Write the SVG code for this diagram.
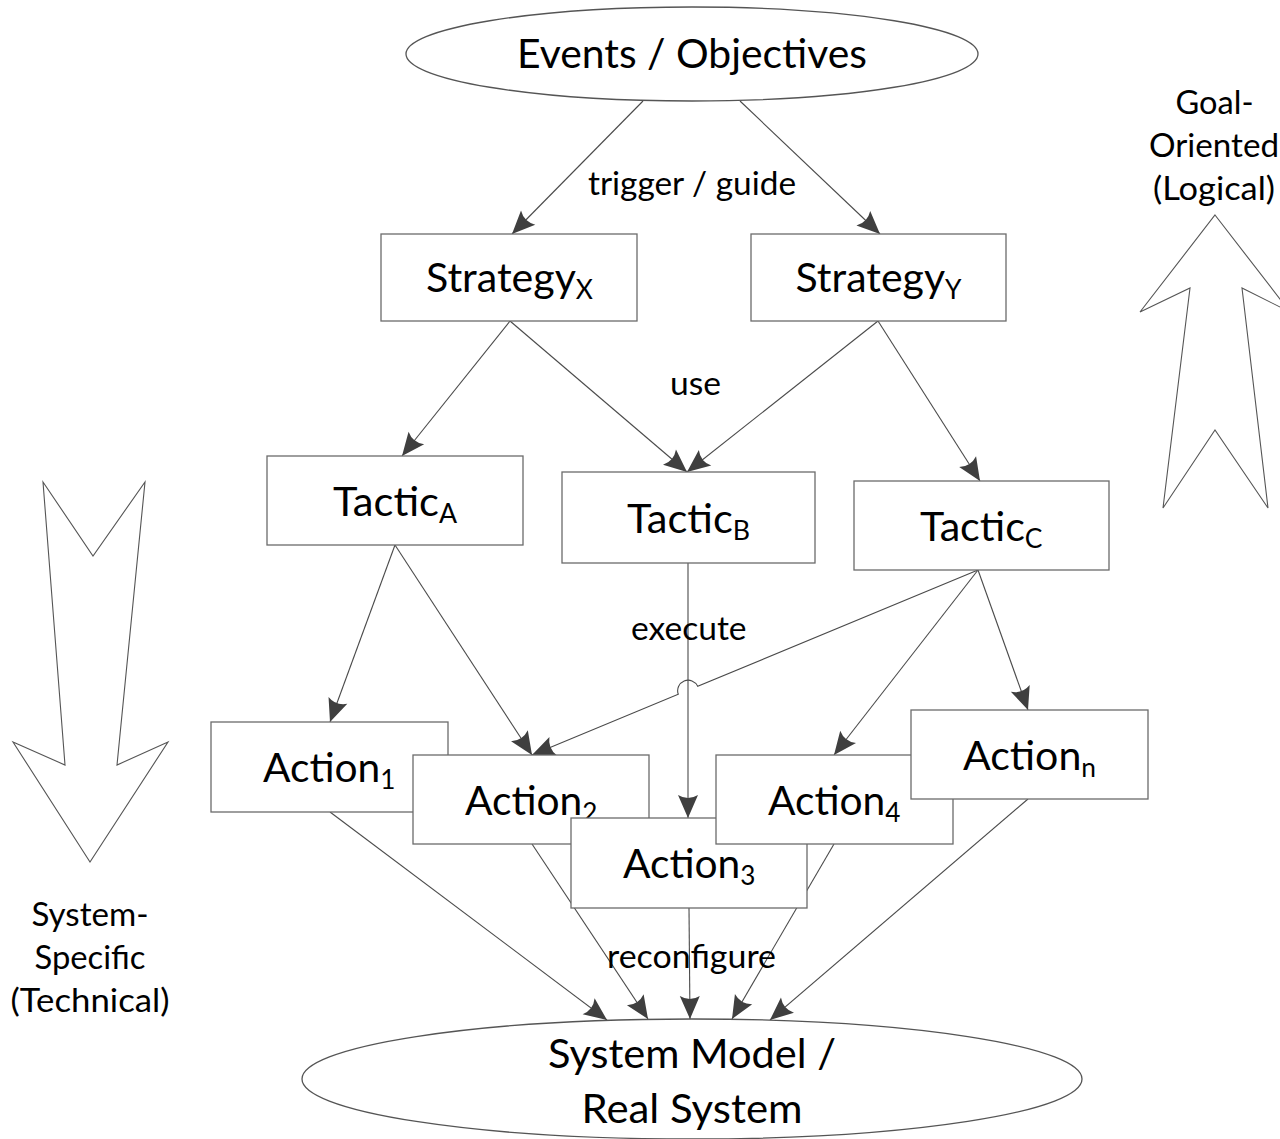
<svg xmlns="http://www.w3.org/2000/svg" width="1280" height="1139" viewBox="0 0 1280 1139">
<style>
  .box { fill:#ffffff; stroke:#6b6b6b; stroke-width:1.3; }
  .ell { fill:#ffffff; stroke:#555555; stroke-width:1.3; }
  .big { fill:#ffffff; stroke:#555555; stroke-width:1.1; }
  .con { fill:none; stroke:#4a4a4a; stroke-width:1.1; marker-end:url(#ah); }
  text { font-family: Lato, "Open Sans", "Liberation Sans", sans-serif; fill:#000000; }
  .t { font-size:40.5px; }
  .l { font-size:32.4px; }
  .s { font-size:26px; }
</style>
<defs>
  <marker id="ah" viewBox="0 0 26 22" refX="24" refY="11" markerWidth="26" markerHeight="22" markerUnits="userSpaceOnUse" orient="auto">
    <path d="M24,11 L1,1 Q7,11 1,21 Z" fill="#3f3f3f"/>
  </marker>
</defs>
<rect x="0" y="0" width="1280" height="1139" fill="#ffffff"/>

<g id="goal-arrow">
  <polygon class="big" points="1215,215 1290,312 1242,288 1268,508 1215,430 1163,508 1190,288 1140,312"/>
  <text class="l" x="1175.5" y="114" textLength="78" lengthAdjust="spacingAndGlyphs">Goal-</text>
  <text class="l" x="1149" y="157" textLength="130" lengthAdjust="spacingAndGlyphs">Oriented</text>
  <text class="l" x="1153" y="200" textLength="122" lengthAdjust="spacingAndGlyphs">(Logical)</text>
</g>

<g id="system-arrow">
  <polygon class="big" points="43,482 93,556 145,482 117,765 168,742 90,862 13,742 65,765"/>
  <text class="l" x="31.5" y="926" textLength="117" lengthAdjust="spacingAndGlyphs">System-</text>
  <text class="l" x="34.5" y="969" textLength="111" lengthAdjust="spacingAndGlyphs">Specific</text>
  <text class="l" x="10.5" y="1012" textLength="159" lengthAdjust="spacingAndGlyphs">(Technical)</text>
</g>

<g id="connectors">
  <path class="con" d="M643,101 L512,234"/>
  <path class="con" d="M740,101 L880,234"/>
  <path class="con" d="M510,321 L402,456"/>
  <path class="con" d="M510,321 L687,472"/>
  <path class="con" d="M878,321 L687,472"/>
  <path class="con" d="M878,321 L980,481"/>
  <path class="con" d="M395,545 L330,722"/>
  <path class="con" d="M395,545 L532,755"/>
  <path class="con" d="M688,563 L688,818"/>
  <path class="con" d="M978,570 L697.7,686.3 A10.5,10.5 0 0 0 678.3,694.3 L532,755"/>
  <path class="con" d="M978,570 L834,755"/>
  <path class="con" d="M978,570 L1028,710"/>
  <path class="con" d="M330,812 L607,1020"/>
  <path class="con" d="M532,844 L648,1019"/>
  <path class="con" d="M689,908 L690,1019"/>
  <path class="con" d="M834,844 L732,1019"/>
  <path class="con" d="M1028,799 L770,1020"/>
</g>

<g id="events">
  <ellipse class="ell" cx="692" cy="54" rx="286" ry="47"/>
  <text class="t" x="517" y="68" textLength="350" lengthAdjust="spacingAndGlyphs">Events / Objectives</text>
</g>
<g id="strategy-x">
  <rect class="box" x="381" y="234" width="256" height="87"/>
  <text class="t" x="426" y="292" textLength="167" lengthAdjust="spacingAndGlyphs">Strategy<tspan class="s" dy="7">X</tspan></text>
</g>
<g id="strategy-y">
  <rect class="box" x="751" y="234" width="255" height="87"/>
  <text class="t" x="795.5" y="292" textLength="166" lengthAdjust="spacingAndGlyphs">Strategy<tspan class="s" dy="7">Y</tspan></text>
</g>
<g id="tactic-a">
  <rect class="box" x="267" y="456" width="256" height="89"/>
  <text class="t" x="333" y="516" textLength="124" lengthAdjust="spacingAndGlyphs">Tactic<tspan class="s" dy="7">A</tspan></text>
</g>
<g id="tactic-b">
  <rect class="box" x="562" y="472" width="253" height="91"/>
  <text class="t" x="627" y="533" textLength="123" lengthAdjust="spacingAndGlyphs">Tactic<tspan class="s" dy="7">B</tspan></text>
</g>
<g id="tactic-c">
  <rect class="box" x="854" y="481" width="255" height="89"/>
  <text class="t" x="920" y="541" textLength="122.5" lengthAdjust="spacingAndGlyphs">Tactic<tspan class="s" dy="7">C</tspan></text>
</g>
<g id="action-1">
  <rect class="box" x="211" y="722" width="237" height="90"/>
  <text class="t" x="263" y="782" textLength="132.5" lengthAdjust="spacingAndGlyphs">Action<tspan class="s" dy="7">1</tspan></text>
</g>
<g id="action-2">
  <rect class="box" x="413" y="755" width="236" height="89"/>
  <text class="t" x="465" y="815" textLength="132.5" lengthAdjust="spacingAndGlyphs">Action<tspan class="s" dy="7">2</tspan></text>
</g>
<g id="action-3">
  <rect class="box" x="571" y="818" width="236" height="90"/>
  <text class="t" x="623" y="878" textLength="132.5" lengthAdjust="spacingAndGlyphs">Action<tspan class="s" dy="7">3</tspan></text>
</g>
<g id="action-4">
  <rect class="box" x="716" y="755" width="237" height="89"/>
  <text class="t" x="768" y="815" textLength="132.5" lengthAdjust="spacingAndGlyphs">Action<tspan class="s" dy="7">4</tspan></text>
</g>
<g id="action-n">
  <rect class="box" x="911" y="710" width="237" height="89"/>
  <text class="t" x="963" y="770" textLength="133" lengthAdjust="spacingAndGlyphs">Action<tspan class="s" dy="7">n</tspan></text>
</g>
<g id="system">
  <ellipse class="ell" cx="692" cy="1079" rx="390" ry="60"/>
  <text class="t" x="548" y="1068" textLength="288" lengthAdjust="spacingAndGlyphs">System Model /</text>
  <text class="t" x="581.5" y="1123" textLength="221" lengthAdjust="spacingAndGlyphs">Real System</text>
</g>

<g id="edge-labels">
  <text class="l" x="588" y="195" textLength="208" lengthAdjust="spacingAndGlyphs">trigger / guide</text>
  <text class="l" x="670" y="395" textLength="51" lengthAdjust="spacingAndGlyphs">use</text>
  <text class="l" x="631" y="640" textLength="115.6" lengthAdjust="spacingAndGlyphs">execute</text>
  <text class="l" x="607" y="968" textLength="169" lengthAdjust="spacingAndGlyphs">reconfigure</text>
</g>
</svg>
